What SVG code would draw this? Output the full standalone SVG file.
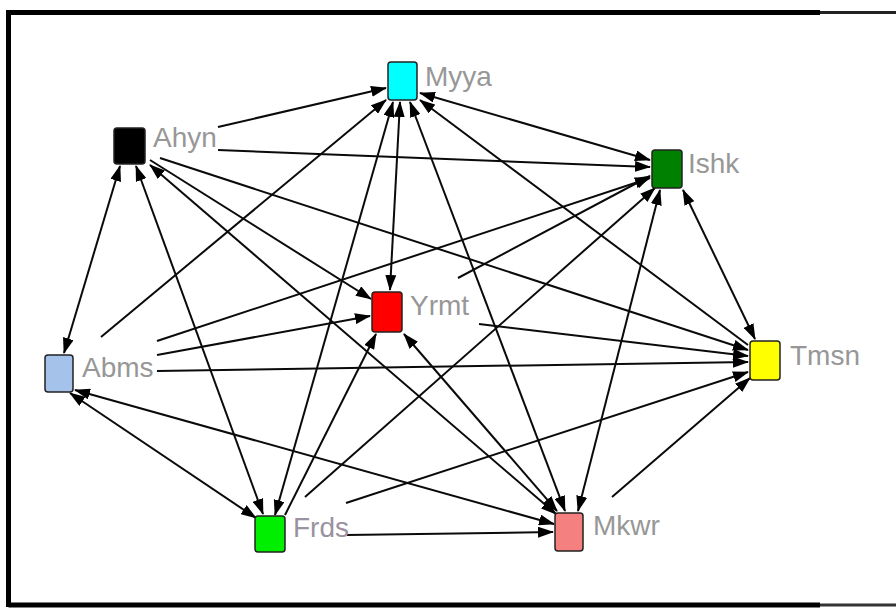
<svg xmlns="http://www.w3.org/2000/svg" width="896" height="610" viewBox="0 0 896 610">
<style>
.e{stroke:#0a0a0a;stroke-width:2;fill:none}
.a{marker-end:url(#ah)}
.b{marker-end:url(#ah);marker-start:url(#as)}
.n{stroke:#222;stroke-width:1.5}
.t{font-family:"Liberation Sans",Arial,sans-serif;font-size:28px;fill:#979797}
</style>
<defs>
<marker id="ah" markerUnits="userSpaceOnUse" markerWidth="16" markerHeight="11" refX="15" refY="5.5" orient="auto"><path d="M0,0 L16,5.5 L0,11 Z" fill="#000"/></marker>
<marker id="as" markerUnits="userSpaceOnUse" markerWidth="16" markerHeight="11" refX="15" refY="5.5" orient="auto-start-reverse"><path d="M0,0 L16,5.5 L0,11 Z" fill="#000"/></marker>
</defs>
<rect width="896" height="610" fill="#fff"/>
<g id="frame" fill="none">
<path d="M8.5,607 V12.5 H820" stroke="#000" stroke-width="5"/>
<path d="M820,12.5 H896" stroke="#222" stroke-width="3"/>
<path d="M8.5,605 H820" stroke="#000" stroke-width="5"/>
<path d="M820,605 H896" stroke="#333" stroke-width="3"/>
</g>
<g id="edges">
<line class="e a" x1="218" y1="127" x2="386" y2="88"/>
<line class="e a" x1="218" y1="150" x2="650" y2="167"/>
<line class="e b" x1="120" y1="166" x2="64" y2="353"/>
<line class="e b" x1="136" y1="166" x2="263" y2="514"/>
<line class="e a" x1="150" y1="160" x2="371" y2="299"/>
<line class="e b" x1="150" y1="165" x2="556" y2="514"/>
<line class="e a" x1="160" y1="158" x2="748" y2="350"/>
<line class="e a" x1="101" y1="337" x2="386" y2="100"/>
<line class="e a" x1="157" y1="341" x2="650" y2="178"/>
<line class="e a" x1="157" y1="355" x2="370" y2="316"/>
<line class="e a" x1="157" y1="371" x2="748" y2="362"/>
<line class="e b" x1="75" y1="390" x2="554" y2="524"/>
<line class="e b" x1="70" y1="393" x2="256" y2="518"/>
<line class="e b" x1="275" y1="515" x2="393" y2="102"/>
<line class="e a" x1="285" y1="515" x2="376" y2="334"/>
<line class="e a" x1="305" y1="497" x2="655" y2="188"/>
<line class="e a" x1="346" y1="503" x2="748" y2="372"/>
<line class="e a" x1="347" y1="535" x2="553" y2="532"/>
<line class="e b" x1="400" y1="102" x2="390" y2="290"/>
<line class="e b" x1="410" y1="102" x2="565" y2="511"/>
<line class="e a" x1="748" y1="345" x2="420" y2="100"/>
<line class="e b" x1="650" y1="160" x2="420" y2="93"/>
<line class="e a" x1="458" y1="278" x2="650" y2="176"/>
<line class="e a" x1="479" y1="324" x2="748" y2="356"/>
<line class="e b" x1="404" y1="334" x2="557" y2="511"/>
<line class="e b" x1="660" y1="190" x2="578" y2="511"/>
<line class="e b" x1="683" y1="190" x2="755" y2="339"/>
<line class="e a" x1="612" y1="497" x2="750" y2="378"/>
</g>
<g id="Myya"><rect class="n" x="388" y="62" width="29" height="38" rx="3" fill="#00ffff"/><text class="t" x="425" y="86">Myya</text></g>
<g id="Ahyn"><rect class="n" x="114" y="128" width="31" height="36" rx="3" fill="#000"/><text class="t" x="153" y="147">Ahyn</text></g>
<g id="Ishk"><rect class="n" x="652" y="150" width="30" height="38" rx="3" fill="#008000"/><text class="t" x="688" y="173">Ishk</text></g>
<g id="Abms"><rect class="n" x="45" y="355" width="28" height="37" rx="3" fill="#a4c2ea"/><text class="t" x="82" y="377">Abms</text></g>
<g id="Yrmt"><rect class="n" x="372" y="292" width="30" height="40" rx="3" fill="#ff0000"/><text class="t" x="410" y="315">Yrmt</text></g>
<g id="Tmsn"><rect class="n" x="750" y="341" width="30" height="39" rx="3" fill="#ffff00"/><text class="t" x="790" y="365">Tmsn</text></g>
<g id="Frds"><rect class="n" x="255" y="516" width="30" height="36" rx="3" fill="#00ee00"/><text class="t" x="293" y="537" style="fill:#9a92a0">Frds</text></g>
<g id="Mkwr"><rect class="n" x="555" y="513" width="28" height="38" rx="3" fill="#f48080"/><text class="t" x="593" y="535">Mkwr</text></g>
</svg>
